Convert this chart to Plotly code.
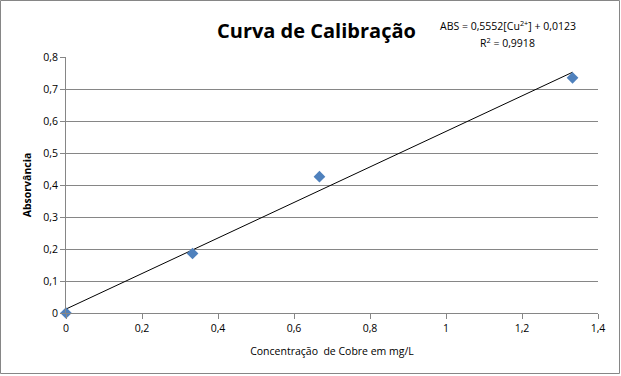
import plotly.graph_objects as go

conc = [0, 0.333, 0.667, 1.333]
absorb = [0, 0.186, 0.426, 0.735]
slope = 0.5552
intercept = 0.0123
trend_x = [0, 1.333]
trend_y = [slope * v + intercept for v in trend_x]
x_ticks = [0, 0.2, 0.4, 0.6, 0.8, 1, 1.2, 1.4]
x_labels = ["0", "0,2", "0,4", "0,6", "0,8", "1", "1,2", "1,4"]
y_ticks = [0, 0.1, 0.2, 0.3, 0.4, 0.5, 0.6, 0.7, 0.8]
y_labels = ["0", "0,1", "0,2", "0,3", "0,4", "0,5", "0,6", "0,7", "0,8"]

W, H = 621, 376
ml, mr, mt, mb = 66, 23, 57, 63
pw, ph = W - ml - mr, H - mt - mb

fig = go.Figure()
fig.add_trace(go.Scatter(x=trend_x, y=trend_y, mode="lines",
                         line=dict(color="black", width=1), hoverinfo="skip"))
fig.add_trace(go.Scatter(x=conc, y=absorb, mode="markers",
                         marker=dict(symbol="diamond", size=9, color="#4F81BD",
                                     line=dict(width=0)), cliponaxis=False))

font = "Open Sans, Liberation Sans, sans-serif"
fig.update_layout(
    width=W, height=H, margin=dict(l=ml, r=mr, t=mt, b=mb),
    paper_bgcolor="white", plot_bgcolor="white", showlegend=False,
    font=dict(family=font, size=10, color="black"),
    xaxis=dict(range=[0, 1.4], tickvals=x_ticks, ticktext=x_labels,
               showgrid=False, zeroline=False, showline=True, linecolor="#868686",
               ticks="outside", ticklen=5, tickcolor="#868686",
               tickfont=dict(size=10.5),
               title=dict(text="Concentração  de Cobre em mg/L", font=dict(size=10.5), standoff=14)),
    yaxis=dict(range=[0, 0.8], tickvals=y_ticks, ticktext=y_labels,
               showgrid=True, gridcolor="#868686", gridwidth=1, zeroline=False,
               showline=True, linecolor="#868686",
               ticks="outside", ticklen=5, tickcolor="#868686",
               tickfont=dict(size=10.5),
               title=dict(text="<b>Absorvância</b>", font=dict(size=10.5), standoff=9)),
)

fig.add_annotation(text="<b>Curva de Calibração</b>", xref="paper", yref="paper",
                   x=(316 - ml) / pw, y=1 + (mt - 30) / ph, showarrow=False,
                   font=dict(size=20, family=font), xanchor="center", yanchor="middle")
fig.add_annotation(text="ABS = 0,5552[Cu<sup>2+</sup>] + 0,0123",
                   xref="paper", yref="paper",
                   x=(508 - ml) / pw, y=1 + (mt - 25) / ph, showarrow=False,
                   font=dict(size=10.5, family=font),
                   xanchor="center", yanchor="middle")
fig.add_annotation(text="R<sup>2</sup> = 0,9918",
                   xref="paper", yref="paper",
                   x=(507 - ml) / pw, y=1 + (mt - 42) / ph, showarrow=False,
                   font=dict(size=10.5, family=font),
                   xanchor="center", yanchor="middle")

fig.add_shape(type="rect", xref="paper", yref="paper",
              x0=(0.5 - ml) / pw, x1=(619.5 - ml) / pw,
              y0=1 + (mt - 373.5) / ph, y1=1 + (mt - 0.5) / ph,
              line=dict(color="#868686", width=1))

fig.write_html("out.html", post_script="document.body.style.margin='0';",
               config={"displayModeBar": False})
